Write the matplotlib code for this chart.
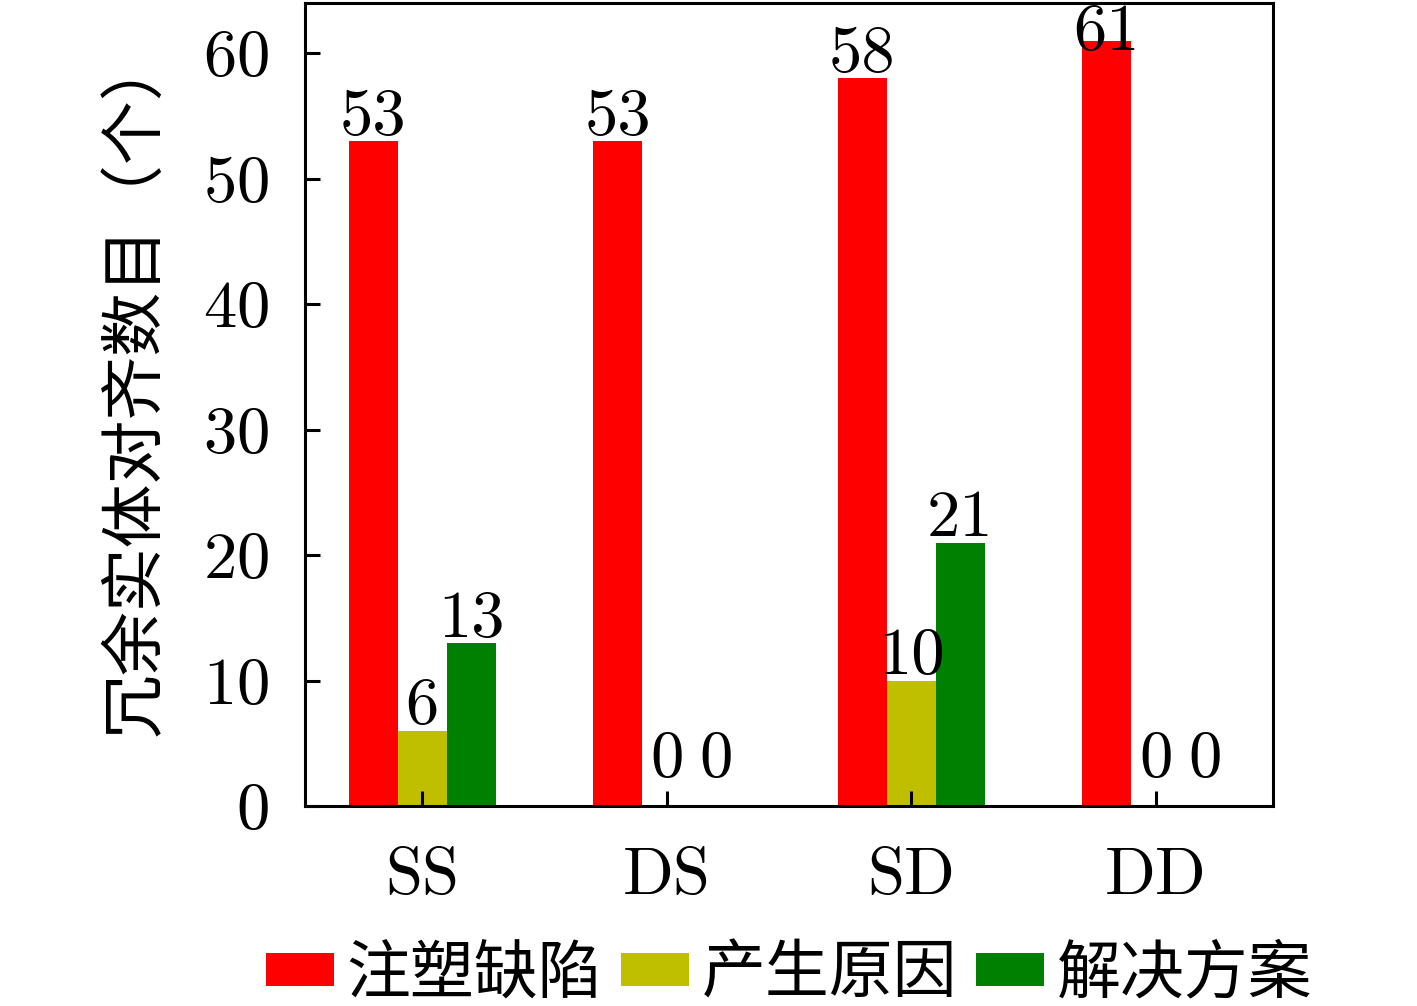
import numpy as np
import matplotlib
matplotlib.use("Agg")
import matplotlib.pyplot as plt

plt.rcParams['font.family'] = ['cmr10', 'Noto Sans CJK SC', 'DejaVu Sans']
plt.rcParams['axes.formatter.use_mathtext'] = True
plt.rcParams['axes.unicode_minus'] = False

categories = ['SS', 'DS', 'SD', 'DD']
series_names = ['注塑缺陷', '产生原因', '解决方案']
defects = [53, 53, 58, 61]
causes = [6, 0, 10, 0]
solutions = [13, 0, 21, 0]
colors = ['#ff0000', '#bfbf00', '#008000']
ylabel = '冗余实体对齐数目（个）'

FS_NUM = 48   # digits / latin
FS_CJK = 46   # chinese text
YMAX = 64

fig = plt.figure(figsize=(14.17, 10.06), dpi=100)
ax = fig.add_axes([0.2152, 0.1988, 0.6832, 0.7982])

x = np.arange(len(categories))
w = 0.2
for i, (vals, name) in enumerate(zip([defects, causes, solutions], series_names)):
    xs = x + (i - 1) * w
    ax.bar(xs, vals, w, color=colors[i], label=name)
    for xi, v in zip(xs, vals):
        # zeros sit a bit higher; labels that would run past the top get pushed down
        if v == 0:
            off = 21
        elif v > YMAX - 4:
            off = -7
        else:
            off = 4.5
        ax.annotate(str(v), (xi, v), xytext=(0, off), textcoords='offset points',
                    ha='center', va='baseline', fontsize=FS_NUM)

ax.set_ylim(0, YMAX)
ax.set_yticks([0, 10, 20, 30, 40, 50, 60])
ax.set_xticks(x)
ax.set_xticklabels(categories)
ax.tick_params(axis='both', direction='in', length=11, width=2.2, labelsize=FS_NUM)
ax.tick_params(axis='y', pad=26)
ax.tick_params(axis='x', pad=30)
for s in ax.spines.values():
    s.set_linewidth(2.2)

ax.set_ylabel(ylabel, fontsize=FS_CJK, labelpad=26)
ax.yaxis.label.set_y(0.525)

ax.legend(loc='upper center', bbox_to_anchor=(0.5, -0.142), ncol=3, frameon=False,
          fontsize=FS_CJK, handlelength=1.06, handleheight=0.4, handletextpad=0.2,
          columnspacing=0.3, borderaxespad=0)

fig.savefig('out.png', dpi=100)
